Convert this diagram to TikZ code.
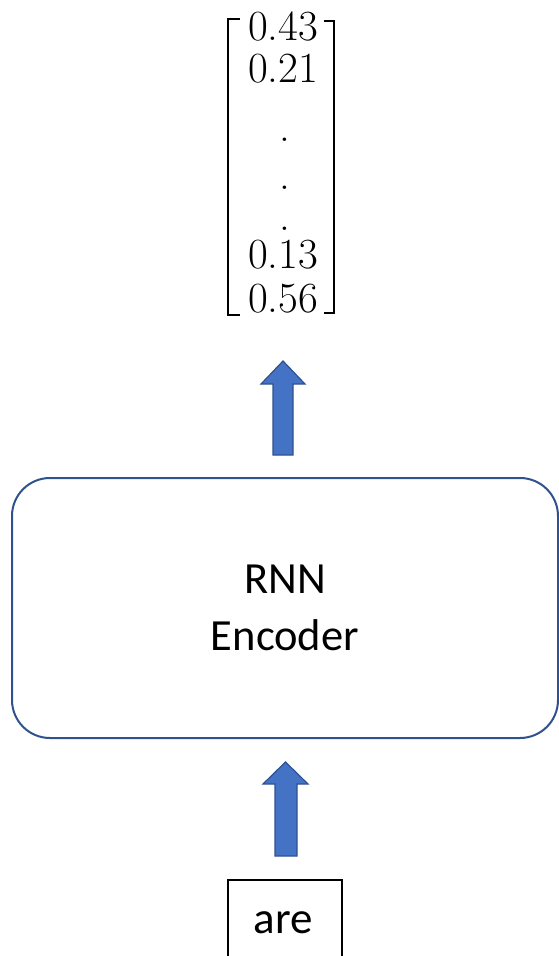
\documentclass[tikz,border=0pt]{standalone}
\usepackage{fontspec}
\newfontfamily\calib{Carlito}
\definecolor{arrowfill}{HTML}{4472C4}
\definecolor{arrowline}{HTML}{2F528F}
\tikzset{
  num/.style={anchor=base, inner sep=0pt, font=\fontsize{43}{50}\selectfont},
  blockarrow/.style={fill=arrowfill, draw=arrowline, line width=1.2pt, line join=miter},
  encbox/.style={draw=arrowline, line width=2pt, rounded corners=38pt, minimum width=546pt, minimum height=260pt, inner sep=0pt, align=center, font=\calib\fontsize{44.5}{57}\selectfont},
  wordbox/.style={draw=black, line width=1.3pt, minimum width=114pt, minimum height=90pt, inner sep=0pt},
  bracket/.style={line width=2.6pt, line cap=butt, line join=miter}
}
\begin{document}
\begin{tikzpicture}[x=1pt,y=-1pt]
\useasboundingbox (0,0) rectangle (559,956);
% vector entries
\node[num] (v1) at (283,40) {0.43};
\node[num] (v2) at (283,82) {0.21};
\node[num] (d1) at (285,141) {.};
\node[num] (d2) at (285,189) {.};
\node[num] (d3) at (285,230) {.};
\node[num] (v3) at (283,268) {0.13};
\node[num] (v4) at (283,312) {0.56};
% brackets
\draw[bracket] (240,19) -- (228,19) -- (228,315) -- (240,315);
\draw[bracket] (324,21) -- (334,21) -- (334,313) -- (324,313);
% upper arrow
\draw[blockarrow] (273,455) -- (273,384) -- (261,384) -- (283,361) -- (305,384) -- (293,384) -- (293,455) -- cycle;
% encoder box
\node[encbox] (enc) at (285,608) {RNN\\Encoder};
% lower arrow
\draw[blockarrow] (275,856) -- (275,784) -- (263,784) -- (285.5,762) -- (308,784) -- (297,784) -- (297,856) -- cycle;
% word box
\node[wordbox] (are) at (285,925) {};
\node[anchor=base, inner sep=0pt, font=\calib\fontsize{45}{50}\selectfont] (aretext) at (283,933) {are};
\end{tikzpicture}
\end{document}
